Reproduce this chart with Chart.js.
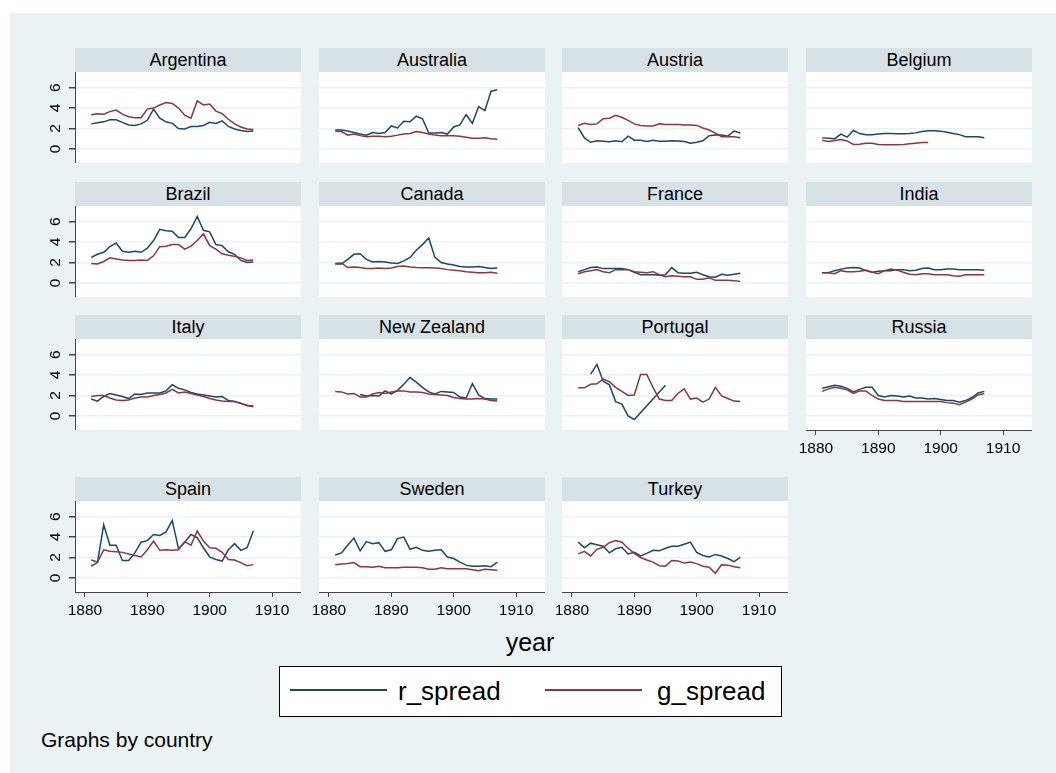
<!DOCTYPE html>
<html>
<head>
<meta charset="utf-8">
<script src="https://cdn.jsdelivr.net/npm/chart.js@4"></script>
<style>
  body { margin: 0; background: #fff; font-family: "Liberation Sans", Arial, sans-serif; }
  #page { position: relative; width: 1056px; height: 773px; overflow: hidden; }
  #bg { position: absolute; left: 10px; top: 13px; right: 0; bottom: 0; background: #eaf2f3; }
  .strip { position: absolute; background: #d6e2e6; color: #000; font-size: 18px; text-align: center; }
  .plot { position: absolute; background: #fff; }
  canvas { position: absolute; }
  .txt { position: absolute; color: #000; white-space: nowrap; }
  #legend { position: absolute; left: 279px; top: 666px; width: 501px; height: 49px; border: 1px solid #000; background: #fff; }
  .key { position: absolute; height: 2px; }
</style>
</head>
<body>
<div id="page">
  <div id="bg"></div>
  <div id="panels"></div>
  <div class="txt" style="left:480px; top:627px; width:100px; height:30px; line-height:30px; font-size:25px; text-align:center;">year</div>
  <div id="legend"></div>
  <div class="key" style="left:290px; top:689px; width:97px; background:#1a476f;"></div>
  <div class="txt" style="left:398px; top:674px; height:34px; line-height:34px; font-size:26px;">r_spread</div>
  <div class="key" style="left:545px; top:689px; width:97px; background:#90353b;"></div>
  <div class="txt" style="left:657px; top:674px; height:34px; line-height:34px; font-size:26px;">g_spread</div>
  <div class="txt" style="left:41px; top:727px; height:26px; line-height:26px; font-size:21px;">Graphs by country</div>
</div>
<script>
const years = [1881, 1882, 1883, 1884, 1885, 1886, 1887, 1888, 1889, 1890,
  1891, 1892, 1893, 1894, 1895, 1896, 1897, 1898, 1899, 1900,
  1901, 1902, 1903, 1904, 1905, 1906, 1907];

const countries = ['Argentina', 'Australia', 'Austria', 'Belgium', 'Brazil', 'Canada', 'France', 'India',
  'Italy', 'New Zealand', 'Portugal', 'Russia', 'Spain', 'Sweden', 'Turkey'];

const xTicks = [1880, 1890, 1900, 1910];
const yTicks = [0, 2, 4, 6];

const argentinaR = [2.45, 2.55, 2.65, 2.85, 2.85, 2.6, 2.35, 2.3, 2.45, 2.8, 3.9, 3.0, 2.65, 2.5, 2.0, 1.95, 2.2, 2.2, 2.3, 2.6, 2.5, 2.75, 2.2, 1.95, 1.8, 1.7, 1.75];
const argentinaG = [3.35, 3.45, 3.4, 3.65, 3.8, 3.4, 3.15, 3.05, 3.05, 3.9, 4.0, 4.3, 4.55, 4.45, 4.0, 3.3, 3.0, 4.7, 4.3, 4.4, 3.7, 3.45, 2.9, 2.45, 2.15, 1.95, 1.9];
const australiaR = [1.85, 1.85, 1.75, 1.6, 1.45, 1.35, 1.6, 1.5, 1.6, 2.25, 2.05, 2.7, 2.65, 3.2, 2.95, 1.55, 1.55, 1.6, 1.45, 2.15, 2.35, 3.35, 2.5, 4.15, 3.75, 5.65, 5.8];
const australiaG = [1.75, 1.7, 1.35, 1.45, 1.3, 1.2, 1.25, 1.25, 1.2, 1.25, 1.35, 1.45, 1.5, 1.7, 1.6, 1.45, 1.35, 1.3, 1.3, 1.3, 1.25, 1.15, 1.05, 1.05, 1.1, 1.0, 0.95];
const austriaR = [2.07, 1.08, 0.65, 0.8, 0.75, 0.7, 0.8, 0.7, 1.25, 0.85, 0.85, 0.72, 0.85, 0.75, 0.75, 0.8, 0.78, 0.72, 0.55, 0.65, 0.8, 1.3, 1.35, 1.35, 1.25, 1.75, 1.55];
const austriaG = [2.3, 2.5, 2.4, 2.45, 2.95, 3.0, 3.3, 3.1, 2.8, 2.45, 2.3, 2.25, 2.25, 2.45, 2.4, 2.4, 2.4, 2.35, 2.35, 2.3, 2.05, 1.85, 1.55, 1.2, 1.2, 1.2, 1.1];
const belgiumR = [1.08, 1.05, 1.0, 1.45, 1.15, 1.8, 1.5, 1.38, 1.38, 1.45, 1.5, 1.5, 1.48, 1.48, 1.5, 1.57, 1.7, 1.77, 1.77, 1.74, 1.64, 1.5, 1.4, 1.2, 1.2, 1.2, 1.1];
const belgiumG = [0.85, 0.72, 0.82, 0.92, 0.78, 0.43, 0.46, 0.56, 0.56, 0.43, 0.4, 0.4, 0.4, 0.43, 0.5, 0.56, 0.62, 0.62, null, null, null, null, null, null, null, null, null];
const brazilR = [2.5, 2.8, 3.0, 3.55, 3.9, 3.1, 3.0, 3.1, 3.0, 3.4, 4.15, 5.25, 5.1, 5.05, 4.45, 4.45, 5.3, 6.5, 5.15, 5.0, 3.75, 3.65, 3.05, 2.8, 2.2, 2.0, 2.05];
const brazilG = [1.9, 1.85, 2.1, 2.45, 2.35, 2.25, 2.2, 2.2, 2.25, 2.2, 2.65, 3.55, 3.6, 3.75, 3.75, 3.3, 3.6, 4.15, 4.8, 3.65, 3.3, 2.85, 2.7, 2.6, 2.45, 2.2, 2.25];
const canadaR = [1.85, 1.85, 2.3, 2.8, 2.85, 2.3, 2.05, 2.1, 2.05, 1.95, 1.9, 2.15, 2.5, 3.2, 3.75, 4.4, 2.5, 2.0, 1.85, 1.75, 1.6, 1.55, 1.55, 1.6, 1.5, 1.4, 1.45];
const canadaG = [1.9, 1.95, 1.5, 1.55, 1.5, 1.4, 1.4, 1.45, 1.4, 1.45, 1.6, 1.65, 1.55, 1.5, 1.48, 1.48, 1.45, 1.4, 1.3, 1.25, 1.2, 1.1, 1.05, 1.0, 1.0, 1.05, 0.95];
const franceR = [1.1, 1.3, 1.5, 1.55, 1.4, 1.4, 1.4, 1.4, 1.3, 1.05, 0.8, 0.8, 0.8, 0.75, 0.8, 1.5, 1.0, 0.95, 0.95, 1.05, 0.8, 0.6, 0.55, 0.85, 0.75, 0.85, 0.95];
const franceG = [0.9, 1.1, 1.2, 1.3, 1.1, 1.0, 1.3, 1.3, 1.3, 1.1, 1.05, 1.0, 1.1, 0.8, 0.6, 0.7, 0.65, 0.6, 0.6, 0.35, 0.35, 0.5, 0.25, 0.25, 0.25, 0.2, 0.15];
const indiaR = [1.0, 1.0, 1.2, 1.35, 1.45, 1.5, 1.45, 1.2, 1.05, 1.15, 1.2, 1.2, 1.3, 1.3, 1.2, 1.25, 1.4, 1.45, 1.3, 1.3, 1.35, 1.35, 1.3, 1.3, 1.3, 1.3, 1.25];
const indiaG = [1.0, 1.0, 0.9, 1.2, 1.1, 1.1, 1.15, 1.25, 1.05, 0.9, 1.2, 1.35, 1.25, 1.05, 0.85, 0.8, 0.9, 0.9, 0.8, 0.8, 0.8, 0.7, 0.65, 0.8, 0.8, 0.8, 0.8];
const italyR = [1.65, 1.45, 1.9, 2.2, 2.05, 1.9, 1.7, 2.15, 2.1, 2.25, 2.25, 2.25, 2.45, 3.05, 2.7, 2.55, 2.3, 2.15, 2.05, 1.95, 1.85, 1.9, 1.5, 1.4, 1.25, 1.0, 1.0];
const italyG = [1.9, 2.0, 2.0, 1.75, 1.55, 1.5, 1.55, 1.75, 1.85, 1.85, 2.0, 2.1, 2.25, 2.6, 2.25, 2.35, 2.2, 2.05, 1.9, 1.7, 1.55, 1.45, 1.4, 1.4, 1.2, 1.05, 0.9];
const newZealandR = [null, null, null, null, 2.1, 1.95, 2.0, 1.95, 2.45, 2.15, 2.5, 3.1, 3.75, 3.3, 2.8, 2.35, 2.15, 2.4, 2.35, 2.3, 1.85, 1.75, 3.15, 2.05, 1.7, 1.65, 1.65];
const newZealandG = [2.4, 2.35, 2.15, 2.2, 1.85, 1.85, 2.15, 2.3, 2.2, 2.35, 2.45, 2.45, 2.35, 2.35, 2.3, 2.15, 2.1, 2.05, 2.0, 1.8, 1.7, 1.65, 1.65, 1.7, 1.65, 1.5, 1.45];
const portugalR = [null, null, 4.1, 5.05, 3.4, 3.05, 1.4, 1.15, 0.0, -0.35, null, null, null, null, 3.0, null, null, null, null, null, null, null, null, null, null, null, null];
const portugalG = [2.75, 2.75, 3.1, 3.15, 3.6, 3.35, 2.8, 2.4, 2.0, 2.05, 4.05, 4.05, 2.8, 1.65, 1.5, 1.5, 2.2, 2.65, 1.65, 1.75, 1.35, 1.65, 2.8, 1.95, 1.7, 1.45, 1.4];
const russiaR = [2.7, 2.85, 3.0, 2.9, 2.7, 2.35, 2.6, 2.8, 2.8, 2.0, 1.85, 2.0, 1.95, 1.85, 1.95, 1.75, 1.75, 1.65, 1.7, 1.6, 1.5, 1.5, 1.35, 1.5, 1.8, 2.25, 2.4];
const russiaG = [2.4, 2.65, 2.8, 2.7, 2.55, 2.2, 2.45, 2.45, 2.0, 1.65, 1.5, 1.5, 1.5, 1.4, 1.4, 1.4, 1.4, 1.4, 1.4, 1.4, 1.3, 1.25, 1.1, 1.35, 1.65, 2.05, 2.2];
const spainR = [1.15, 1.5, 5.2, 3.2, 3.2, 1.7, 1.7, 2.45, 3.5, 3.65, 4.25, 4.15, 4.5, 5.6, 2.85, 3.5, 4.25, 3.95, 2.95, 2.05, 1.8, 1.65, 2.75, 3.35, 2.7, 2.95, 4.6];
const spainG = [1.75, 1.55, 2.75, 2.6, 2.55, 2.5, 2.35, 2.2, 2.05, 2.75, 3.6, 2.7, 2.75, 2.7, 2.75, 3.55, 3.2, 4.6, 3.6, 2.95, 2.9, 2.5, 1.8, 1.75, 1.5, 1.2, 1.3];
const swedenR = [2.25, 2.45, 3.2, 3.9, 2.65, 3.55, 3.35, 3.45, 2.6, 2.75, 3.85, 4.0, 2.8, 3.0, 2.7, 2.6, 2.7, 2.75, 2.05, 1.9, 1.55, 1.25, 1.15, 1.15, 1.2, 1.1, 1.55];
const swedenG = [1.3, 1.35, 1.4, 1.5, 1.1, 1.1, 1.05, 1.15, 1.0, 1.0, 1.0, 1.05, 1.05, 1.05, 1.0, 0.85, 0.85, 1.0, 0.9, 0.9, 0.9, 0.9, 0.8, 0.7, 0.85, 0.8, 0.75];
const turkeyR = [3.5, 2.95, 3.4, 3.25, 3.1, 2.45, 2.85, 3.0, 2.35, 2.5, 2.15, 2.4, 2.7, 2.65, 2.9, 3.1, 3.1, 3.3, 3.5, 2.5, 2.2, 2.05, 2.3, 2.15, 1.9, 1.6, 2.0];
const turkeyG = [2.35, 2.6, 2.15, 2.8, 3.0, 3.45, 3.65, 3.5, 2.9, 2.4, 2.0, 1.75, 1.55, 1.2, 1.15, 1.7, 1.65, 1.45, 1.55, 1.4, 1.15, 1.05, 0.45, 1.3, 1.25, 1.1, 1.0];

const rSeries = [argentinaR, australiaR, austriaR, belgiumR, brazilR, canadaR, franceR, indiaR,
  italyR, newZealandR, portugalR, russiaR, spainR, swedenR, turkeyR];
const gSeries = [argentinaG, australiaG, austriaG, belgiumG, brazilG, canadaG, franceG, indiaG,
  italyG, newZealandG, portugalG, russiaG, spainG, swedenG, turkeyG];

// mise en page des panneaux (px)
const colLeft = [75, 319, 562, 806];
const stripTop = [48, 182, 315, 477];
const plotW = 226, stripH = 24, plotH = 91;

const blue = '#1a476f';
const red = '#90353b';
const gridColor = '#eaf2f3';
const axisColor = '#444';
const fontFamily = '"Liberation Sans", Arial, sans-serif';

const toPoints = vals => years.map((yr, k) => ({ x: yr, y: vals[k] }));

// étiquettes verticales de l'axe y (tournées comme dans Stata)
const yLabelPlugin = {
    id: 'yLabelPlugin',
    afterDraw(chart, args, opts) {
        if (!opts.show) return;
        const ctx = chart.ctx;
        const yScale = chart.scales.y;
        ctx.save();
        ctx.font = '15.5px ' + fontFamily;
        ctx.fillStyle = '#000';
        ctx.textAlign = 'center';
        ctx.textBaseline = 'middle';
        yTicks.forEach(v => {
            ctx.save();
            ctx.translate(chart.chartArea.left - 19, yScale.getPixelForValue(v));
            ctx.rotate(-Math.PI / 2);
            ctx.fillText(String(v), 0, 0);
            ctx.restore();
        });
        ctx.restore();
    },
};

const panels = document.getElementById('panels');

countries.forEach((name, i) => {
    const row = Math.floor(i / 4);
    const col = i % 4;
    const left = colLeft[col];
    const top = stripTop[row] + stripH;
    const hasX = i + 4 >= countries.length;
    const padL = col === 0 ? 50 : 12;
    const padB = hasX ? 32 : 0;

    const strip = document.createElement('div');
    strip.className = 'strip';
    strip.style.cssText = `left:${left}px;top:${stripTop[row]}px;width:${plotW}px;height:${stripH}px;line-height:${stripH}px;`;
    strip.textContent = name;
    panels.appendChild(strip);

    const plot = document.createElement('div');
    plot.className = 'plot';
    plot.style.cssText = `left:${left}px;top:${top}px;width:${plotW}px;height:${plotH}px;`;
    panels.appendChild(plot);

    const canvas = document.createElement('canvas');
    canvas.width = plotW + padL;
    canvas.height = plotH + padB;
    canvas.style.left = (left - padL) + 'px';
    canvas.style.top = top + 'px';
    panels.appendChild(canvas);

    new Chart(canvas, {
        type: 'line',
        data: {
            datasets: [
                {
                    label: 'r_spread',
                    data: toPoints(rSeries[i]),
                    borderColor: blue,
                    borderWidth: 1.5,
                    pointRadius: 0,
                    spanGaps: true,
                    order: 1,
                },
                {
                    label: 'g_spread',
                    data: toPoints(gSeries[i]),
                    borderColor: red,
                    borderWidth: 1.5,
                    pointRadius: 0,
                    spanGaps: true,
                    order: 0,
                },
            ],
        },
        options: {
            responsive: false,
            animation: false,
            devicePixelRatio: 1,
            layout: { padding: 0 },
            plugins: {
                legend: { display: false },
                tooltip: { enabled: false },
                yLabelPlugin: { show: col === 0 },
            },
            scales: {
                x: {
                    type: 'linear',
                    min: 1878.4,
                    max: 1914.65,
                    display: hasX,
                    afterBuildTicks: s => { s.ticks = xTicks.map(v => ({ value: v })); },
                    afterFit: s => { s.height = padB; },
                    border: { display: true, color: axisColor, width: 1 },
                    grid: { display: true, drawOnChartArea: false, drawTicks: true, tickLength: 5, tickColor: axisColor },
                    ticks: {
                        color: '#000',
                        font: { family: fontFamily, size: 15.5 },
                        padding: 4,
                        maxRotation: 0,
                        autoSkip: false,
                        callback: v => String(v),
                    },
                },
                y: {
                    type: 'linear',
                    min: -1.38,
                    max: 7.53,
                    afterBuildTicks: s => { s.ticks = yTicks.map(v => ({ value: v })); },
                    afterFit: s => { s.width = padL; },
                    border: { display: col === 0, color: axisColor, width: 1 },
                    grid: { color: gridColor, lineWidth: 1.5, drawTicks: col === 0, tickLength: 6, tickColor: axisColor },
                    ticks: { display: false },
                },
            },
        },
        plugins: [yLabelPlugin],
    });
});
</script>
</body>
</html>
